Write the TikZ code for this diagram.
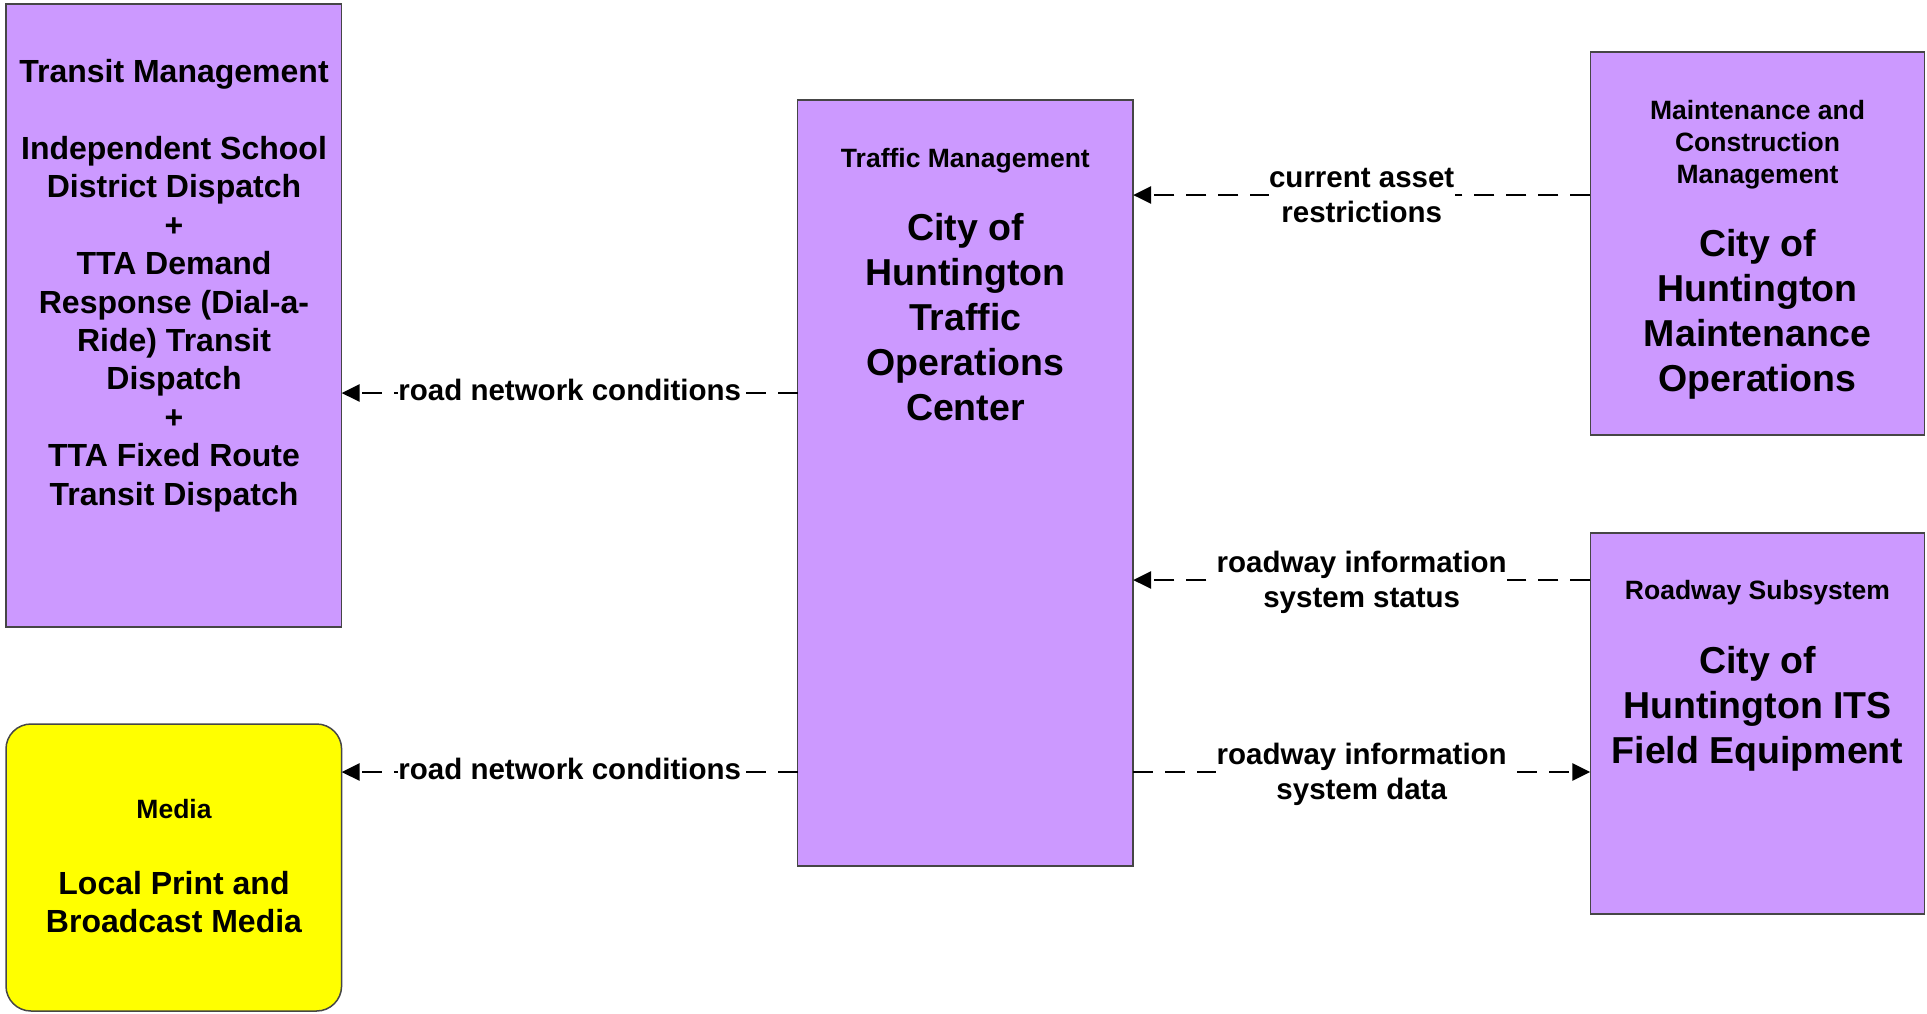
\documentclass[tikz,border=0pt]{standalone}
\usepackage{fontspec}
\setmainfont{Liberation Sans}
\usetikzlibrary{arrows.meta}
\definecolor{boxpurple}{RGB}{204,153,255}
\definecolor{boxyellow}{RGB}{255,255,0}
\definecolor{edgegray}{RGB}{70,70,70}
\begin{document}
\begin{tikzpicture}[x=1pt,y=-1pt,
  box/.style={draw=edgegray, line width=1.5pt, fill=boxpurple, inner sep=0pt, outer sep=0pt, anchor=north west},
  hdr/.style={font=\fontsize{26.5}{32}\selectfont\bfseries, align=center, inner sep=0pt, anchor=north},
  big/.style={font=\fontsize{37.5}{45}\selectfont\bfseries, align=center, inner sep=0pt, anchor=north},
  mid/.style={font=\fontsize{32}{38.4}\selectfont\bfseries, align=center, inner sep=0pt, anchor=north},
  lbl/.style={font=\fontsize{29.5}{35}\selectfont\bfseries, align=center, fill=white, inner sep=0.5pt},
  flow/.style={line width=2.8pt, dash pattern=on 20pt off 12pt, -{Triangle[length=18pt,width=17pt]}}
]
\useasboundingbox (0,0) rectangle (1927,1013);

% boxes
\node[box, minimum width=335.6pt, minimum height=623pt] (tm) at (6,4) {};
\node[box, fill=boxyellow, rounded corners=25pt, minimum width=335.6pt, minimum height=287pt] (md) at (6,724) {};
\node[box, minimum width=335.5pt, minimum height=766pt] (tmc) at (797.6,100) {};
\node[box, minimum width=334.3pt, minimum height=383pt] (mnt) at (1590.3,52) {};
\node[box, minimum width=334.3pt, minimum height=381pt] (rs) at (1590.3,533) {};

% box texts
\node[mid] (tmtxt) at (174,59) {Transit Management\\[38.8pt]Independent School\\District Dispatch\\+\\TTA Demand\\Response (Dial-a-\\Ride) Transit\\Dispatch\\+\\TTA Fixed Route\\Transit Dispatch};
\node[hdr] (mdh) at (174,799) {Media};
\node[mid] (mdtxt) at (174,871) {Local Print and\\Broadcast Media};
\node[hdr] (tmch) at (965.4,148) {Traffic Management};
\node[big] (tmctxt) at (965.4,213) {City of\\Huntington\\Traffic\\Operations\\Center};
\node[hdr] (mnth) at (1757.5,100) {Maintenance and\\Construction\\Management};
\node[big] (mnttxt) at (1757.5,229) {City of\\Huntington\\Maintenance\\Operations};
\node[hdr] (rsh) at (1757.5,580.5) {Roadway Subsystem};
\node[big] (rstxt) at (1757.5,646.5) {City of\\Huntington ITS\\Field Equipment};

% connector heights
\coordinate (y1) at (0,393);
\coordinate (y2) at (0,772);
\coordinate (y3) at (0,195);
\coordinate (y4) at (0,580);

\draw[flow] (tmc.west |- y1) -- (tm.east |- y1);
\draw[flow] (tmc.west |- y2) -- (md.east |- y2);
\draw[flow] (mnt.west |- y3) -- (tmc.east |- y3);
\draw[flow] (rs.west |- y4) -- (tmc.east |- y4);
\draw[flow] (tmc.east |- y2) -- (rs.west |- y2);

% labels
\node[lbl] (l1) at (569.7,390) {road network conditions};
\node[lbl] (l2) at (569.7,769) {road network conditions};
\node[lbl] (l3) at (1361.7,195.5) {current asset\\restrictions};
\node[lbl] (l4) at (1361.7,582) {roadway information\\system status};
\node[lbl] (l5) at (1361.7,774) {roadway information\\system data};
\end{tikzpicture}
\end{document}
